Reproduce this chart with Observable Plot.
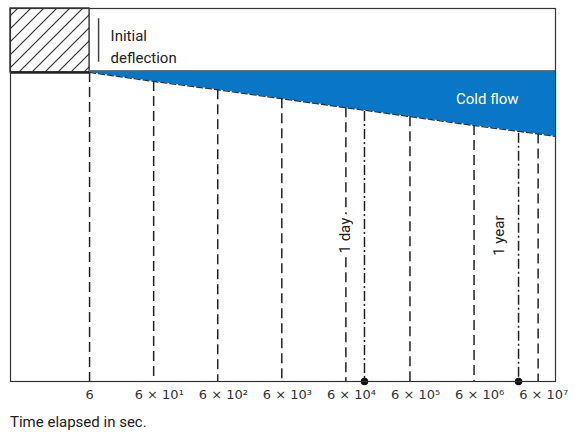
<!DOCTYPE html>
<html>
<head>
<meta charset="utf-8">
<script src="https://cdn.jsdelivr.net/npm/d3@7"></script>
<script src="https://cdn.jsdelivr.net/npm/@observablehq/plot@0.6"></script>
<style>
  body { margin: 0; background: #fff; font-family: Roboto, "Liberation Sans", sans-serif; }
  #caption { font-size: 15px; color: #222; margin: 5px 0 0 10px; }
  text.halo { paint-order: stroke; }
</style>
</head>
<body>
<div id="chart"></div>
<div id="caption">Time elapsed in sec.</div>
<script>
// ---- data ----
const tickTimes  = [6, 60, 600, 6000, 60000, 600000, 6000000, 60000000];
const tickLabels = ["6", "6 × 10¹", "6 × 10²", "6 × 10³", "6 × 10⁴", "6 × 10⁵", "6 × 10⁶", "6 × 10⁷"];
// total deflection (units of initial deflection) along cold-flow curve
const flowTimes      = [6, 60, 600, 6000, 60000, 600000, 6000000, 60000000, 112000000];
const flowDeflection = [1.00, 1.14, 1.27, 1.41, 1.55, 1.69, 1.83, 1.96, 2.00];
const markerTimes      = [117000, 29700000];
const markerLabels     = ["1 day", "1 year"];
const markerDeflection = [1.61, 1.95];
const initialDeflection = 1.0;
const xDomain = [0.35, 112000000];
const yDomain = [0, 5.83];

// ---- tables built from arrays ----
const tickRows = tickTimes.map((t, i) => ({t, label: tickLabels[i], d: flowDeflection[i]}));
const flowRows = flowTimes.map((t, i) => ({t, d: flowDeflection[i]}));
const markerRows = markerTimes.map((t, i) => ({t, label: markerLabels[i], d: markerDeflection[i]}));

const blue = "#0a77c6";
const ink = "#222";
const tickFont = "'DejaVu Sans', sans-serif";

const svg = Plot.plot({
  width: 575,
  height: 408,
  marginLeft: 10,
  marginRight: 20,
  marginTop: 8,
  marginBottom: 27,
  style: {fontFamily: "Roboto, 'Liberation Sans', sans-serif", background: "#fff", color: ink},
  x: {type: "log", domain: xDomain, axis: null},
  y: {domain: yDomain, reverse: true, axis: null},
  marks: [
    // hatched initial deflection block
    Plot.rect([{}], {x1: xDomain[0], x2: tickTimes[0], y1: yDomain[0], y2: initialDeflection,
      fill: "url(#hatch)", stroke: ink, strokeWidth: 1.3}),
    Plot.ruleY([initialDeflection], {x1: xDomain[0], x2: tickTimes[0], stroke: ink, strokeWidth: 2.6}),
    // cold flow area
    Plot.areaY(flowRows, {x: "t", y1: () => 0.97, y2: "d", fill: blue}),
    Plot.ruleY([0.97], {x1: tickTimes[0], x2: xDomain[1], stroke: "#777", strokeWidth: 0.8}),
    Plot.line(flowRows, {x: "t", y: "d", stroke: "#333", strokeWidth: 1.3, strokeDasharray: "6,3"}),
    // vertical dashed time lines
    Plot.ruleX(tickRows, {x: "t", y1: "d", y2: yDomain[1], stroke: ink, strokeWidth: 1.5, strokeDasharray: "10,5"}),
    // 1 day / 1 year dash-dot lines
    Plot.ruleX(markerRows, {x: "t", y1: "d", y2: yDomain[1], stroke: ink, strokeWidth: 1.5, strokeDasharray: "10,3,2,3"}),
    Plot.dot(markerRows, {x: "t", y: () => yDomain[1], r: 3, fill: "#111", stroke: "#111"}),
    Plot.text(markerRows, {x: "t", y: () => 3.55, text: "label", rotate: -90, dx: -19,
      fontSize: 15, fill: ink, stroke: "white", strokeWidth: 9, className: "halo"}),
    // frame
    Plot.frame({stroke: "#333", strokeWidth: 1.2}),
    // initial deflection annotation
    Plot.ruleX([tickTimes[0]], {y1: 0.16, y2: 0.84, dx: 9, stroke: "#444", strokeWidth: 1.5}),
    Plot.text([{}], {x: () => tickTimes[0], y: () => yDomain[0], text: () => "Initial\ndeflection",
      textAnchor: "start", lineAnchor: "top", dx: 21, dy: 17, lineHeight: 1.45, fontSize: 15, fill: ink}),
    // cold flow label
    Plot.text([{}], {x: () => xDomain[1], y: () => 1.41, text: () => "Cold flow",
      textAnchor: "end", dx: -37, fontSize: 15, fill: "white"}),
    // tick labels
    Plot.text(tickRows.slice(0, 1), {x: "t", text: "label", frameAnchor: "bottom", dy: 17,
      textAnchor: "start", dx: -4, fontSize: 13, fill: "#333", fontFamily: tickFont}),
    Plot.text(tickRows.slice(1), {x: "t", text: "label", frameAnchor: "bottom", dy: 17,
      textAnchor: "start", dx: -19, fontSize: 13, fill: "#333", fontFamily: tickFont})
  ]
});

d3.select(svg).insert("defs", ":first-child").html(
  `<pattern id="hatch" patternUnits="userSpaceOnUse" width="13" height="13">
     <path d="M0,13 L13,0 M-3,3 L3,-3 M10,16 L16,10" stroke="#333" stroke-width="1.2"/>
   </pattern>`);

document.getElementById("chart").appendChild(svg);
</script>
</body>
</html>
